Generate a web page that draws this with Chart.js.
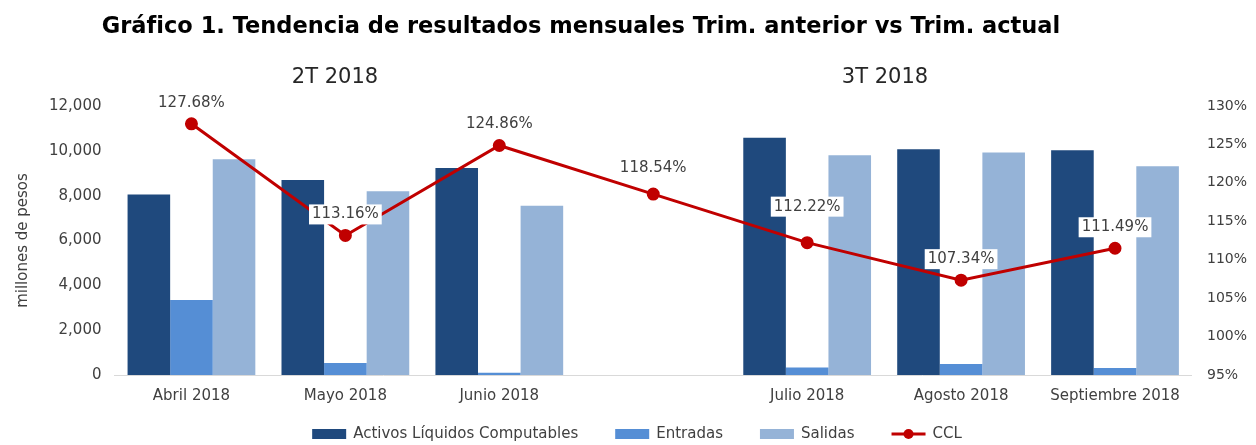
<!DOCTYPE html>
<html lang="es">
<head>
    <meta charset="UTF-8">
    <title>Gráfico 1</title>
    <script src="https://cdn.jsdelivr.net/npm/chart.js"></script>
    <style>
        * {
            box-sizing: border-box;
            margin: 0;
            padding: 0;
        }

        body {
            background-color: #fff;
            width: 1256px;
            height: 445px;
            overflow: hidden;
        }

        .chart-box {
            position: relative;
            width: 1256px;
            height: 445px;
        }
    </style>
</head>
<body>
    <div class="chart-box">
        <canvas id="chart"></canvas>
    </div>

    <script>
        // data
        const months = ['Abril 2018', 'Mayo 2018', 'Junio 2018', '', 'Julio 2018', 'Agosto 2018', 'Septiembre 2018'];
        const activos = [8050, 8700, 9230, null, 10580, 10070, 10030];
        const entradas = [3350, 530, 100, null, 340, 490, 310];
        const salidas = [9620, 8200, 7550, null, 9800, 9930, 9310];
        const ccl = [127.68, 113.16, 124.86, 118.54, 112.22, 107.34, 111.49];
        const leftTicks = [0, 2000, 4000, 6000, 8000, 10000, 12000];
        const rightTicks = [95, 100, 105, 110, 115, 120, 125, 130];
        const groups = ['2T 2018', '3T 2018'];

        const FONT = "'DejaVu Sans', sans-serif";
        const GREY = '#404040';

        // titles, group labels, CCL labels and the legend
        const textPlugin = {
            id: 'texts',
            afterDatasetsDraw(chart) {
                const ctx = chart.ctx;
                const meta = chart.getDatasetMeta(3);
                ctx.save();
                ctx.font = '15px ' + FONT;
                ctx.textAlign = 'center';
                ctx.textBaseline = 'middle';
                meta.data.forEach((pt, i) => {
                    const txt = ccl[i].toFixed(2) + '%';
                    const lift = i === 4 ? 36 : (i === 3 ? 26 : 21);
                    const w = ctx.measureText(txt).width;
                    ctx.fillStyle = '#fff';
                    ctx.fillRect(pt.x - w / 2 - 3, pt.y - lift - 10, w + 6, 20);
                    ctx.fillStyle = GREY;
                    ctx.fillText(txt, pt.x, pt.y - lift);
                });
                ctx.restore();
            },
            afterDraw(chart) {
                const ctx = chart.ctx;
                ctx.save();
                ctx.fillStyle = '#000';
                ctx.textAlign = 'center';
                ctx.textBaseline = 'alphabetic';
                ctx.font = "bold 22.5px 'DejaVu Sans', sans-serif";
                ctx.fillText('Gráfico 1. Tendencia de resultados mensuales Trim. anterior vs Trim. actual', 581, 33);

                ctx.fillStyle = '#262626';
                ctx.font = '21px ' + FONT;
                ctx.fillText(groups[0], 335, 83);
                ctx.fillText(groups[1], 885, 83);

                // legend
                ctx.font = '15px ' + FONT;
                ctx.textAlign = 'left';
                ctx.textBaseline = 'middle';
                const sets = chart.data.datasets;
                const boxW = 34, gap = 7, space = 37;
                const widths = sets.map(d => boxW + gap + ctx.measureText(d.label).width);
                const total = widths.reduce((a, b) => a + b, 0) + space * (sets.length - 1);
                let x = 637 - total / 2;
                const y = 434;
                sets.forEach((d, i) => {
                    if (d.type === 'line') {
                        ctx.strokeStyle = d.borderColor;
                        ctx.lineWidth = 3;
                        ctx.beginPath();
                        ctx.moveTo(x, y);
                        ctx.lineTo(x + boxW, y);
                        ctx.stroke();
                        ctx.fillStyle = d.borderColor;
                        ctx.beginPath();
                        ctx.arc(x + boxW / 2, y, 5, 0, Math.PI * 2);
                        ctx.fill();
                    } else {
                        ctx.fillStyle = d.backgroundColor;
                        ctx.fillRect(x, y - 5, boxW, 10);
                    }
                    ctx.fillStyle = GREY;
                    ctx.fillText(d.label, x + boxW + gap, y);
                    x += widths[i] + space;
                });
                ctx.restore();
            }
        };

        const ctx = document.getElementById('chart').getContext('2d');
        const chart = new Chart(ctx, {
            data: {
                labels: months,
                datasets: [{
                    type: 'bar',
                    label: 'Activos Líquidos Computables',
                    data: activos,
                    backgroundColor: '#1F497D',
                    yAxisID: 'y',
                    order: 1
                }, {
                    type: 'bar',
                    label: 'Entradas',
                    data: entradas,
                    backgroundColor: '#558ED5',
                    yAxisID: 'y',
                    order: 1
                }, {
                    type: 'bar',
                    label: 'Salidas',
                    data: salidas,
                    backgroundColor: '#95B3D7',
                    yAxisID: 'y',
                    order: 1
                }, {
                    type: 'line',
                    label: 'CCL',
                    data: ccl,
                    borderColor: '#C00000',
                    backgroundColor: '#C00000',
                    borderWidth: 3,
                    pointRadius: 5,
                    pointHoverRadius: 5,
                    tension: 0,
                    yAxisID: 'y1',
                    order: 0
                }]
            },
            options: {
                responsive: true,
                maintainAspectRatio: false,
                animation: false,
                categoryPercentage: 0.83,
                barPercentage: 1,
                layout: {
                    padding: { top: 106, left: 10, right: -6, bottom: 28 }
                },
                plugins: {
                    legend: { display: false },
                    tooltip: { enabled: false }
                },
                scales: {
                    x: {
                        grid: { display: false, drawTicks: false },
                        border: { display: true, color: '#D9D9D9', width: 1 },
                        ticks: {
                            color: GREY,
                            font: { family: FONT, size: 15 },
                            padding: 12,
                            maxRotation: 0,
                            autoSkip: false
                        }
                    },
                    y: {
                        position: 'left',
                        min: leftTicks[0],
                        max: leftTicks[leftTicks.length - 1],
                        afterBuildTicks: s => { s.ticks = leftTicks.map(v => ({ value: v })); },
                        grid: { display: false, drawTicks: false },
                        border: { display: false },
                        title: {
                            display: true,
                            text: 'millones de pesos',
                            color: GREY,
                            font: { family: FONT, size: 15 },
                            padding: 4
                        },
                        ticks: {
                            color: GREY,
                            font: { family: FONT, size: 15 },
                            padding: 13,
                            callback: v => v.toLocaleString('en-US')
                        }
                    },
                    y1: {
                        position: 'right',
                        min: rightTicks[0],
                        max: rightTicks[rightTicks.length - 1],
                        afterBuildTicks: s => { s.ticks = rightTicks.map(v => ({ value: v })); },
                        grid: { display: false, drawTicks: false },
                        border: { display: false },
                        ticks: {
                            color: GREY,
                            font: { family: FONT, size: 14 },
                            padding: 15,
                            callback: v => v + '%'
                        }
                    }
                }
            },
            plugins: [textPlugin]
        });
    </script>
</body>
</html>
